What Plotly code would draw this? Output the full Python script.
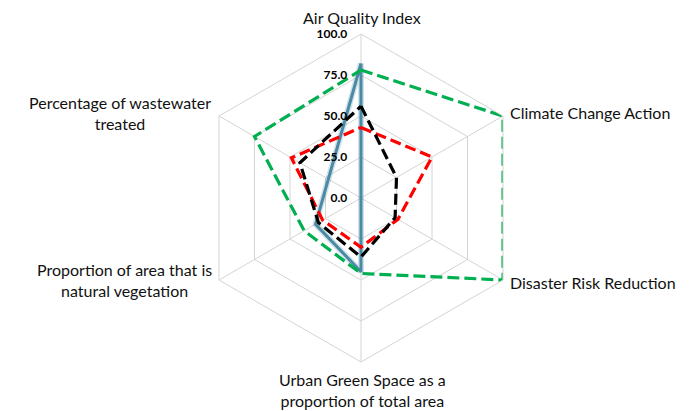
import math
import plotly.graph_objects as go

categories = [
    "Air Quality Index",
    "Climate Change Action",
    "Disaster Risk Reduction",
    "Urban Green Space as a<br>proportion of total area",
    "Proportion of area that is<br>natural vegetation",
    "Percentage of wastewater<br>treated",
]

series_blue = [82, 0, 0, 45, 32, 23]
series_green = [78, 100, 100, 46, 40, 75]
series_red = [43, 50, 26, 30, 27, 49]
series_black = [56, 25, 24, 36, 30, 43]

radial_ticks = [0, 25, 50, 75, 100]


def closed(vals):
    return vals + vals[:1]


theta = closed(categories)

fig = go.Figure()

fig.add_trace(go.Scatterpolar(
    r=closed(series_blue), theta=theta, mode="lines",
    line=dict(color="rgba(74,141,168,0.25)", width=6), hoverinfo="skip",
))
fig.add_trace(go.Scatterpolar(
    r=closed(series_blue), theta=theta, mode="lines",
    line=dict(color="#4A8AA5", width=3),
))
fig.add_trace(go.Scatterpolar(
    r=closed(series_green), theta=theta, mode="lines",
    line=dict(color="#00B050", width=3.2, dash="12px,5px"),
))
fig.add_trace(go.Scatterpolar(
    r=closed(series_red), theta=theta, mode="lines",
    line=dict(color="#FF0000", width=3.2, dash="11px,5px"),
))
fig.add_trace(go.Scatterpolar(
    r=closed(series_black), theta=theta, mode="lines",
    line=dict(color="#000000", width=3.2, dash="11px,5px"),
))

W, H = 698, 411
PAGE_OFFSET = 8  # browser's default body margin
# target centre / radius of the radar in page pixels
cx, cy, R = 361 - PAGE_OFFSET, 198 - PAGE_OFFSET, 164

# category labels placed around the outer vertices (text from categories)
label_style = [
    # xanchor, yanchor, dx, dy
    ("center", "middle", 1, -16),
    ("left", "middle", 6, -4),
    ("left", "middle", 6, 2),
    ("center", "top", 1, 7),
    ("right", "middle", -6, 0),
    ("right", "middle", -7, -3),
]
annotations = []
n = len(categories)
for i, (cat, (xa, ya, dx, dy)) in enumerate(zip(categories, label_style)):
    ang = math.radians(90 - 360 * i / n)
    vx = cx + R * math.cos(ang) + dx
    vy = cy - R * math.sin(ang) + dy
    annotations.append(dict(
        text=cat, x=vx / W, y=1 - vy / H, xref="paper", yref="paper",
        xanchor=xa, yanchor=ya, align="center", showarrow=False,
        borderpad=0,
        font=dict(family="Lato, sans-serif", size=16, color="#111111"),
    ))

fig.update_layout(
    width=W, height=H,
    margin=dict(l=0, r=0, t=0, b=0),
    paper_bgcolor="white",
    plot_bgcolor="white",
    showlegend=False,
    annotations=annotations,
    font=dict(family="Lato, Open Sans, sans-serif", color="#000000", size=16),
    polar=dict(
        domain=dict(
            x=[(cx - R) / W, (cx + R) / W],
            y=[1 - (cy + R) / H, 1 - (cy - R) / H],
        ),
        bgcolor="white",
        gridshape="linear",
        radialaxis=dict(
            range=[0, 100],
            tickvals=radial_ticks,
            tickformat=".1f",
            angle=90,
            tickangle=90,
            side="counterclockwise",
            showline=False,
            ticks="outside",
            ticklen=9,
            tickcolor="rgba(0,0,0,0)",
            gridcolor="#D4D4D4",
            gridwidth=1,
            tickfont=dict(family="Lato, sans-serif", size=12, color="#000000", weight="bold"),
        ),
        angularaxis=dict(
            direction="clockwise",
            rotation=90,
            gridcolor="#D4D4D4",
            gridwidth=1,
            linecolor="#D4D4D4",
            linewidth=1,
            showline=True,
            ticks="",
            showticklabels=False,
        ),
    ),
)

fig.write_html("out.html")
